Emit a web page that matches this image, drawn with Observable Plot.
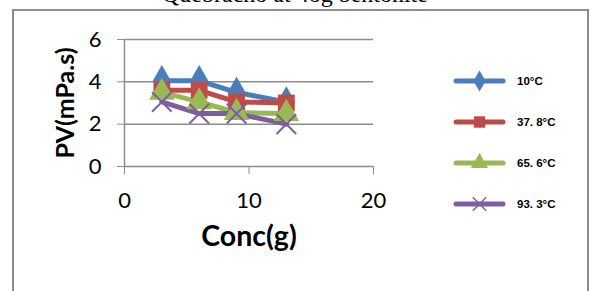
<!DOCTYPE html>
<html><head><meta charset="utf-8">
<script src="https://cdn.jsdelivr.net/npm/d3@7"></script>
<script src="https://cdn.jsdelivr.net/npm/@observablehq/plot@0.6"></script>
<style>
body{margin:0;background:#fff;}
#wrap{position:relative;width:590px;height:291px;overflow:hidden;background:#fff;}
#box{position:absolute;left:12px;top:9px;width:577px;height:300px;border:2px solid #8c8c8c;box-sizing:border-box;}
#title{position:absolute;left:0;width:590px;text-align:center;top:-21px;font:24px "Liberation Serif";color:#000;line-height:30px;}
#chart{position:absolute;left:0;top:0;}
#legend{position:absolute;left:450px;top:60px;}
</style></head><body>
<div id="wrap"><div id="box"></div><div id="title">Quebracho at 4og bentonite</div><div id="chart"></div><svg id="legend" width="135" height="170"></svg></div>
<script>
const conc = [3, 6, 9, 13];
const seriesNames = ["10°C", "37. 8°C", "65. 6°C", "93. 3°C"];
const pv10 = [4.05, 4.05, 3.5, 3.05];
const pv378 = [3.6, 3.6, 3.05, 3.0];
const pv656 = [3.5, 3.05, 2.55, 2.5];
const pv933 = [3.05, 2.5, 2.5, 2.0];
const xTicks = [0, 10, 20];
const yTicks = [0, 2, 4, 6];

const colors = ["#4a7ebb", "#be4b48", "#98b954", "#7d5fa0"];
const symbols = ["diamond", "square", "triangle", "times"];
const allVals = [pv10, pv378, pv656, pv933];
const data = [];
allVals.forEach((vals, i) => vals.forEach((v, j) => data.push({s: seriesNames[i], x: conc[j], y: v})));

const font = "Lato, 'Open Sans', sans-serif";
const chart = Plot.plot({
  width: 590, height: 291,
  marginLeft: 124, marginRight: 217, marginTop: 39, marginBottom: 125,
  style: {fontFamily: font, background: "transparent", color: "#000"},
  x: {domain: [0, 20]},
  y: {domain: [0, 6]},
  color: {domain: seriesNames, range: colors},
  symbol: {domain: seriesNames, range: symbols},
  marks: [
    Plot.gridY({ticks: yTicks, stroke: "#8c8c8c", strokeOpacity: 1, strokeWidth: 1.5}),
    Plot.ruleX([0], {stroke: "#8c8c8c", strokeWidth: 1.5}),
    Plot.axisY({ticks: yTicks, tickFormat: d3.format("d"), tickSize: 7, tickPadding: 16, fontSize: 22, stroke: "#8c8c8c", fill: "#000", label: null}),
    Plot.axisX({ticks: xTicks, tickFormat: d3.format("d"), tickSize: 8, tickPadding: 18, fontSize: 22, stroke: "#8c8c8c", fill: "#000", label: null}),
    Plot.line(data, {x: "x", y: "y", z: "s", stroke: "s", strokeWidth: 5, strokeLinejoin: "round"}),
    Plot.dot(data.filter(d => d.s !== seriesNames[3]), {x: "x", y: "y", symbol: "s", fill: "s", r: 9.5}),
    Plot.dot(data.filter(d => d.s === seriesNames[3]), {x: "x", y: "y", symbol: "s", stroke: "s", r: 9, strokeWidth: 2}),
    Plot.text(["Conc(g)"], {frameAnchor: "bottom", dy: 79, fontSize: 28.5, fontWeight: "bold", fill: "#000"}),
    Plot.text(["PV(mPa.s)"], {frameAnchor: "left", textAnchor: "middle", rotate: -90, dx: -59, fontSize: 25, fontWeight: "bold", fill: "#000"})
  ]
});
document.getElementById("chart").appendChild(chart);

// legend
const lg = d3.select("#legend");
seriesNames.forEach((name, i) => {
  const cy = 21 + 41 * i;
  const g = lg.append("g").attr("transform", `translate(0,${cy})`);
  g.append("line").attr("x1", 6).attr("x2", 53).attr("y1", 0).attr("y2", 0)
    .attr("stroke", colors[i]).attr("stroke-width", 5).attr("stroke-linecap", "round");
  const sym = [d3.symbolDiamond, d3.symbolSquare, d3.symbolTriangle, d3.symbolTimes][i];
  const p = g.append("path").attr("transform", "translate(29.5,0)")
    .attr("d", d3.symbol(sym, i === 3 ? 120 : 130)());
  if (i === 3) p.attr("fill", "none").attr("stroke", colors[i]).attr("stroke-width", 1.5);
  else p.attr("fill", colors[i]);
  g.append("text").attr("x", 67).attr("y", 0).attr("dy", "0.35em")
    .attr("font-family", "'Liberation Sans', Arial, sans-serif").attr("font-size", 11.5).attr("font-weight", "bold")
    .text(name);
});
</script>
</body></html>
